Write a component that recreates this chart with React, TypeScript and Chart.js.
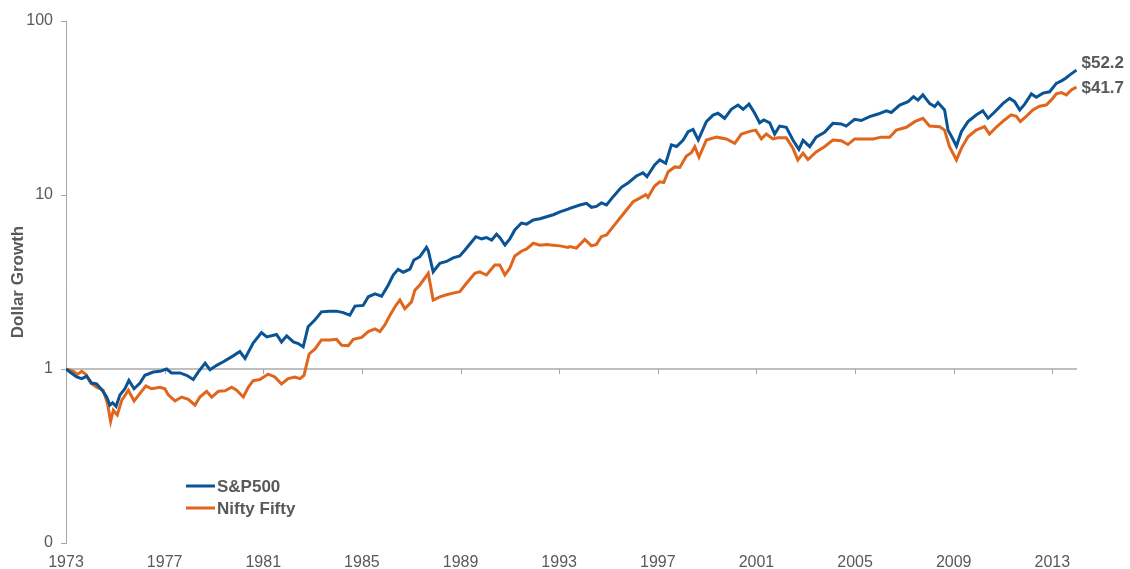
import React, { useEffect, useRef } from 'react';
import { Chart, registerables } from 'chart.js';

Chart.register(...registerables);

// ---------- data ----------
const spYears = [
  1973.0, 1973.43, 1973.64, 1973.84, 1974.04, 1974.24, 1974.45, 1974.65, 1974.78, 1974.89,
  1975.03, 1975.19, 1975.39, 1975.55, 1975.76, 1976.0, 1976.2, 1976.54, 1976.81, 1977.08,
  1977.28, 1977.62, 1977.89, 1978.16, 1978.36, 1978.64, 1978.84, 1979.11, 1979.38, 1979.78,
  1980.05, 1980.26, 1980.59, 1980.93, 1981.14, 1981.54, 1981.74, 1981.95, 1982.22, 1982.42,
  1982.62, 1982.82, 1983.09, 1983.36, 1983.7, 1983.97, 1984.24, 1984.51, 1984.72, 1985.05,
  1985.26, 1985.53, 1985.8, 1986.07, 1986.27, 1986.47, 1986.68, 1986.95, 1987.11, 1987.35,
  1987.62, 1987.69, 1987.89, 1988.16, 1988.43, 1988.7, 1988.97, 1989.18, 1989.38, 1989.62,
  1989.85, 1990.05, 1990.26, 1990.46, 1990.59, 1990.8, 1991.0, 1991.2, 1991.47, 1991.68,
  1991.95, 1992.22, 1992.49, 1992.76, 1993.03, 1993.36, 1993.43, 1993.84, 1994.11, 1994.31,
  1994.51, 1994.71, 1994.92, 1995.19, 1995.52, 1995.79, 1996.13, 1996.4, 1996.56, 1996.87,
  1997.08, 1997.32, 1997.55, 1997.76, 1998.03, 1998.23, 1998.43, 1998.64, 1998.97, 1999.24,
  1999.44, 1999.71, 1999.98, 2000.25, 2000.46, 2000.7, 2000.93, 2001.13, 2001.3, 2001.54,
  2001.74, 2001.94, 2002.21, 2002.48, 2002.72, 2002.89, 2003.16, 2003.42, 2003.76, 2004.1,
  2004.44, 2004.64, 2004.98, 2005.25, 2005.59, 2005.93, 2006.27, 2006.47, 2006.81, 2007.15,
  2007.37, 2007.55, 2007.75, 2008.02, 2008.23, 2008.36, 2008.63, 2008.77, 2008.95, 2009.11,
  2009.31, 2009.58, 2009.91, 2010.18, 2010.39, 2010.66, 2011.0, 2011.27, 2011.47, 2011.68,
  2011.88, 2012.15, 2012.35, 2012.62, 2012.89, 2013.16, 2013.37, 2013.54, 2013.71, 2013.98,
];
const spValues = [
  1.0, 0.9, 0.88, 0.91, 0.83, 0.82, 0.76, 0.69, 0.62, 0.64,
  0.61, 0.71, 0.77, 0.86, 0.77, 0.83, 0.92, 0.96, 0.97, 1.0,
  0.95, 0.95, 0.92, 0.87, 0.96, 1.08, 0.99, 1.05, 1.1, 1.19,
  1.26, 1.15, 1.41, 1.62, 1.53, 1.58, 1.43, 1.55, 1.43, 1.4,
  1.34, 1.75, 1.91, 2.13, 2.15, 2.15, 2.11, 2.04, 2.3, 2.32,
  2.6, 2.7, 2.62, 3.04, 3.47, 3.74, 3.6, 3.75, 4.23, 4.42,
  5.0, 4.8, 3.62, 4.05, 4.15, 4.35, 4.46, 4.83, 5.23, 5.76,
  5.6, 5.7, 5.5, 5.95, 5.7, 5.16, 5.6, 6.3, 6.9, 6.8,
  7.18, 7.3, 7.5, 7.7, 8.0, 8.3, 8.38, 8.76, 8.96, 8.5,
  8.6, 9.0, 8.76, 9.78, 11.07, 11.7, 12.86, 13.4, 12.74, 14.9,
  15.9, 15.2, 19.4, 19.0, 20.7, 23.1, 23.8, 20.7, 26.4, 28.8,
  29.5, 27.6, 31.1, 32.9, 31.1, 33.3, 29.5, 26.0, 27.0, 26.0,
  22.4, 24.9, 24.5, 20.7, 18.3, 20.6, 18.95, 21.5, 22.9, 25.8,
  25.6, 24.9, 27.2, 26.8, 28.2, 29.2, 30.5, 29.8, 32.9, 34.4,
  36.7, 35.1, 37.6, 33.6, 32.2, 34.0, 30.8, 23.6, 21.2, 19.1,
  23.1, 26.4, 28.8, 30.5, 27.6, 30.0, 33.6, 35.9, 34.4, 30.8,
  33.3, 38.1, 36.5, 38.5, 39.2, 43.8, 45.3, 46.9, 49.0, 52.2,
];

const niftyYears = [
  1973.0, 1973.3, 1973.46, 1973.64, 1973.81, 1974.0, 1974.24, 1974.51, 1974.68, 1974.81,
  1974.92, 1975.08, 1975.26, 1975.53, 1975.76, 1976.0, 1976.24, 1976.47, 1976.81, 1977.01,
  1977.15, 1977.42, 1977.69, 1977.96, 1978.23, 1978.43, 1978.7, 1978.91, 1979.18, 1979.45,
  1979.72, 1979.92, 1980.19, 1980.39, 1980.59, 1980.86, 1981.2, 1981.47, 1981.74, 1982.01,
  1982.28, 1982.49, 1982.65, 1982.86, 1983.09, 1983.36, 1983.7, 1983.97, 1984.18, 1984.45,
  1984.65, 1984.99, 1985.26, 1985.53, 1985.73, 1985.93, 1986.14, 1986.34, 1986.54, 1986.74,
  1987.01, 1987.15, 1987.35, 1987.69, 1987.89, 1988.16, 1988.43, 1988.7, 1988.97, 1989.24,
  1989.58, 1989.78, 1990.05, 1990.39, 1990.59, 1990.8, 1991.0, 1991.2, 1991.47, 1991.68,
  1991.95, 1992.22, 1992.49, 1992.76, 1993.03, 1993.36, 1993.43, 1993.7, 1994.04, 1994.31,
  1994.51, 1994.71, 1994.92, 1995.19, 1995.46, 1995.73, 1996.0, 1996.27, 1996.51, 1996.6,
  1996.87, 1997.08, 1997.24, 1997.42, 1997.69, 1997.89, 1998.16, 1998.36, 1998.5, 1998.67,
  1998.97, 1999.38, 1999.78, 2000.12, 2000.39, 2000.73, 2000.97, 2001.2, 2001.4, 2001.67,
  2001.87, 2002.21, 2002.48, 2002.68, 2002.89, 2003.09, 2003.42, 2003.76, 2004.1, 2004.44,
  2004.71, 2004.98, 2005.32, 2005.73, 2006.06, 2006.4, 2006.67, 2007.08, 2007.42, 2007.75,
  2008.02, 2008.43, 2008.63, 2008.83, 2009.11, 2009.31, 2009.58, 2009.91, 2010.25, 2010.45,
  2010.72, 2011.06, 2011.33, 2011.54, 2011.7, 2011.94, 2012.21, 2012.48, 2012.75, 2012.95,
  2013.16, 2013.37, 2013.57, 2013.77, 2013.98,
];
const niftyValues = [
  1.0, 0.97, 0.93, 0.97, 0.93, 0.83, 0.785, 0.755, 0.635, 0.5,
  0.58, 0.545, 0.66, 0.755, 0.655, 0.725, 0.8, 0.77, 0.785, 0.77,
  0.71, 0.655, 0.69, 0.67, 0.62, 0.69, 0.745, 0.69, 0.745, 0.75,
  0.785, 0.755, 0.69, 0.785, 0.857, 0.87, 0.935, 0.9, 0.82, 0.88,
  0.9, 0.88, 0.92, 1.22, 1.3, 1.47, 1.47, 1.48, 1.37, 1.36,
  1.48, 1.52, 1.64, 1.7, 1.64, 1.79, 2.04, 2.28, 2.49, 2.22,
  2.43, 2.84, 3.04, 3.55, 2.49, 2.6, 2.67, 2.73, 2.78, 3.11,
  3.55, 3.62, 3.47, 3.96, 3.96, 3.47, 3.8, 4.46, 4.75, 4.9,
  5.28, 5.15, 5.2, 5.15, 5.1, 5.0, 5.05, 4.95, 5.56, 5.1,
  5.2, 5.76, 5.9, 6.58, 7.35, 8.2, 9.15, 9.6, 10.05, 9.7,
  11.27, 11.9, 11.8, 13.6, 14.5, 14.4, 16.75, 17.5, 18.95, 16.5,
  20.7, 21.5, 21.0, 19.8, 22.4, 23.2, 23.6, 21.0, 22.4, 21.0,
  21.3, 21.3, 18.55, 15.9, 17.4, 16.0, 17.7, 18.95, 20.7, 20.5,
  19.5, 21.0, 21.0, 21.0, 21.5, 21.5, 23.6, 24.5, 26.4, 27.6,
  24.9, 24.7, 23.6, 18.95, 15.9, 18.55, 21.6, 23.6, 24.7, 22.4,
  24.5, 27.0, 28.9, 28.3, 26.4, 28.3, 30.8, 32.4, 32.9, 35.1,
  38.1, 38.8, 37.6, 40.1, 41.7,
];

const seriesNames = ['S&P500', 'Nifty Fifty'];
const endLabels = ['$52.2', '$41.7'];
const xTickYears = [1973, 1977, 1981, 1985, 1989, 1993, 1997, 2001, 2005, 2009, 2013];
const yTickValues = [0.1, 1, 10, 100];
const yTickLabels = ['0', '1', '10', '100'];
const yAxisTitle = 'Dollar Growth';

// ---------- styles ----------
const FONT = "'Liberation Sans', Arial, Helvetica, sans-serif";
const TEXT = '#595959';
const BLUE = '#0A5394';
const ORANGE = '#E0661E';
const AXIS = '#A6A6A6';
const BASELINE = '#BFBFBF';

const overlayPlugin = {
  id: 'overlay',
  beforeDatasetsDraw(chart: any) {
    const { ctx, chartArea, scales } = chart;
    const x = scales.x;
    const y = scales.y;
    const y1 = Math.round(y.getPixelForValue(1));
    ctx.save();
    ctx.strokeStyle = BASELINE;
    ctx.lineWidth = 2;
    ctx.beginPath();
    ctx.moveTo(chartArea.left, y1);
    ctx.lineTo(chartArea.right, y1);
    ctx.stroke();
    ctx.strokeStyle = AXIS;
    ctx.lineWidth = 1;
    x.ticks.forEach((t: any) => {
      const px = Math.round(x.getPixelForValue(t.value)) + 0.5;
      ctx.beginPath();
      ctx.moveTo(px, y1);
      ctx.lineTo(px, y1 + 5);
      ctx.stroke();
    });
    ctx.restore();
  },
  afterDraw(chart: any) {
    const { ctx, scales } = chart;
    const x = scales.x;
    const y = scales.y;
    ctx.save();
    // legend
    const colors = [BLUE, ORANGE];
    ctx.font = `bold 17px ${FONT}`;
    ctx.textBaseline = 'middle';
    ctx.textAlign = 'left';
    seriesNames.forEach((name, i) => {
      const ly = 486 + i * 22;
      ctx.strokeStyle = colors[i];
      ctx.lineWidth = 3;
      ctx.beginPath();
      ctx.moveTo(186, ly);
      ctx.lineTo(215, ly);
      ctx.stroke();
      ctx.fillStyle = TEXT;
      ctx.fillText(name, 217, ly + 1);
    });
    // end labels
    const lastVals = [spValues[spValues.length - 1], niftyValues[niftyValues.length - 1]];
    const lastYears = [spYears[spYears.length - 1], niftyYears[niftyYears.length - 1]];
    const offsets = [-7, 1];
    lastVals.forEach((v, i) => {
      const px = x.getPixelForValue(lastYears[i]) + 5;
      const py = y.getPixelForValue(v) + offsets[i];
      ctx.fillStyle = TEXT;
      ctx.fillText(endLabels[i], px, py);
    });
    ctx.restore();
  },
};

export default function App() {
  const canvasRef = useRef<HTMLCanvasElement | null>(null);

  useEffect(() => {
    const canvas = canvasRef.current;
    if (!canvas) return;
    Chart.defaults.font.family = FONT;
    Chart.defaults.color = TEXT;

    const chart = new Chart(canvas, {
      type: 'line',
      data: {
        datasets: [
          {
            label: seriesNames[0],
            data: spYears.map((yr, i) => ({ x: yr, y: spValues[i] })),
            borderColor: BLUE,
            backgroundColor: BLUE,
            borderWidth: 3,
            pointRadius: 0,
            tension: 0,
          },
          {
            label: seriesNames[1],
            data: niftyYears.map((yr, i) => ({ x: yr, y: niftyValues[i] })),
            borderColor: ORANGE,
            backgroundColor: ORANGE,
            borderWidth: 3,
            pointRadius: 0,
            tension: 0,
          },
        ],
      },
      options: {
        animation: false,
        responsive: false,
        maintainAspectRatio: false,
        layout: { padding: { top: 21, right: 53, bottom: 0, left: 0 } },
        plugins: {
          legend: { display: false },
          tooltip: { enabled: false },
          title: { display: false },
        },
        scales: {
          x: {
            type: 'linear',
            min: 1973,
            max: 2014,
            afterBuildTicks: (scale: any) => {
              scale.ticks = xTickYears.map((v) => ({ value: v }));
            },
            afterFit: (scale: any) => {
              scale.height = 26;
            },
            ticks: {
              autoSkip: false,
              maxRotation: 0,
              padding: 10,
              color: TEXT,
              font: { size: 16, family: FONT },
              callback: (v: any) => String(v),
            },
            grid: { display: false, drawTicks: false },
            border: { display: false },
          },
          y: {
            type: 'logarithmic',
            min: 0.1,
            max: 100,
            afterBuildTicks: (scale: any) => {
              scale.ticks = yTickValues.map((v) => ({ value: v }));
            },
            afterFit: (scale: any) => {
              scale.width = 66;
            },
            ticks: {
              autoSkip: false,
              padding: 8,
              color: TEXT,
              font: { size: 16, family: FONT },
              callback: (v: any) => {
                const idx = yTickValues.findIndex((t) => Math.abs(t - v) < 1e-9);
                return idx >= 0 ? yTickLabels[idx] : '';
              },
            },
            grid: {
              display: true,
              drawOnChartArea: false,
              drawTicks: true,
              tickLength: 5,
              color: AXIS,
            },
            border: { display: true, color: AXIS, width: 1 },
            title: {
              display: true,
              text: yAxisTitle,
              color: TEXT,
              font: { size: 17, weight: 'bold', family: FONT },
              padding: { top: 8, bottom: 0 },
            },
          },
        },
      } as any,
      plugins: [overlayPlugin],
    });

    return () => chart.destroy();
  }, []);

  return (
    <div style={{ position: 'absolute', left: 0, top: 0, width: 1130, height: 569, background: '#fff' }}>
      <canvas ref={canvasRef} width={1130} height={569} style={{ width: 1130, height: 569, display: 'block' }} />
    </div>
  );
}
